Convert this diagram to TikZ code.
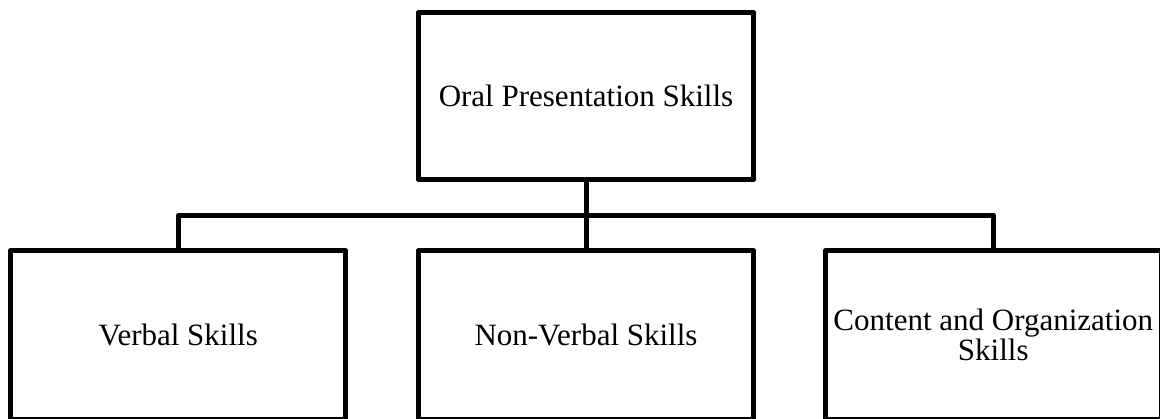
\documentclass[tikz,border=0pt]{standalone}
\usepackage{fontspec}
\setmainfont{Liberation Serif}

\begin{document}
\begin{tikzpicture}[x=1pt, y=-1pt, line width=5pt, line join=round,
  skillbox/.style={draw, minimum width=335.5pt, minimum height=168.2pt,
    align=center, inner sep=0pt, font=\fontsize{31}{30}\selectfont}]
\useasboundingbox (0,0) rectangle (1160,418);
\node [skillbox, minimum height=166.5pt] (oral) at (586,96) {Oral Presentation Skills};
\node [skillbox] (verbal) at (178.2,334.9) {Verbal Skills};
\node [skillbox] (nonverbal) at (586,334.9) {Non-Verbal Skills};
\node [skillbox, minimum width=336.3pt] (content) at (993.3,334.9) {Content and Organization\\Skills};
\coordinate (bus) at (586,215.3);
\draw (oral.south) -- (nonverbal.north);
\draw (verbal.north) -- (verbal.north |- bus) -- (content.north |- bus) -- (content.north);
\end{tikzpicture}
\end{document}
